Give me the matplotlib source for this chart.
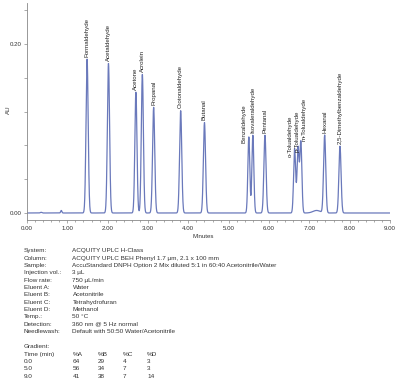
import numpy as np
import matplotlib
matplotlib.use("Agg")
import matplotlib.pyplot as plt
from matplotlib.ticker import MultipleLocator, FuncFormatter

plt.rcParams['font.family'] = ['Liberation Sans', 'DejaVu Sans']

# ---- chromatogram peaks ----
peak_names = ["Formaldehyde", "Acetaldehyde", "Acetone", "Acrolein", "Propanal",
              "Crotonaldehyde", "Butanal", "Benzaldehyde", "Isovaleraldehyde",
              "Pentanal", "o-Tolualdehyde", "p-Tolualdehyde", "m-Tolualdehyde",
              "Hexanal", "2,5-Dimethylbenzaldehyde"]
peak_rt = [1.49, 2.02, 2.70, 2.86, 3.14, 3.81, 4.40, 5.50, 5.60, 5.90,
           6.635, 6.72, 6.79, 7.38, 7.76]
peak_height = [0.182, 0.177, 0.143, 0.164, 0.125, 0.121, 0.107, 0.090, 0.092,
               0.092, 0.076, 0.077, 0.084, 0.092, 0.079]
peak_width = [0.027, 0.027, 0.026, 0.026, 0.027, 0.027, 0.027, 0.024, 0.024,
              0.027, 0.025, 0.025, 0.025, 0.027, 0.027]

# small unlabelled features
minor_rt = [0.35, 0.85, 7.18]
minor_height = [0.0008, 0.003, 0.003]
minor_width = [0.02, 0.015, 0.09]

# ---- method table ----
param_labels = ["System:", "Column:", "Sample:", "Injection vol.:", "Flow rate:",
                "Eluent A:", "Eluent B:", "Eluent C:", "Eluent D:", "Temp.:",
                "Detection:", "Needlewash:"]
param_values = ["ACQUITY UPLC H-Class",
                "ACQUITY UPLC BEH Phenyl 1.7 µm, 2.1 x 100 mm",
                "AccuStandard DNPH Option 2 Mix diluted 5:1 in 60:40 Acetonitrile/Water",
                "3 µL", "750 µL/min", "Water", "Acetonitrile", "Tetrahydrofuran",
                "Methanol", "50 °C", "360 nm @ 5 Hz normal",
                "Default with 50:50 Water/Acetonitrile"]
grad_header = ["Time (min)", "%A", "%B", "%C", "%D"]
grad_time = ["0.0", "5.0", "9.0"]
grad_A = [64, 56, 41]
grad_B = [29, 34, 38]
grad_C = [4, 7, 7]
grad_D = [3, 3, 14]

# label offsets (minutes, AU) for crowded peaks
label_dx = {"Benzaldehyde": -0.12, "Isovaleraldehyde": -0.01, "o-Tolualdehyde": -0.11,
            "p-Tolualdehyde": -0.02, "m-Tolualdehyde": 0.07}
label_dy = {"Benzaldehyde": -0.010, "o-Tolualdehyde": -0.013,
            "p-Tolualdehyde": -0.010, "m-Tolualdehyde": -0.004}

W, H = 400, 383
fig = plt.figure(figsize=(W / 100, H / 100), dpi=100)
x0, x1, ytop, ybot = 27, 390, 3, 220
ax = fig.add_axes([x0 / W, 1 - ybot / H, (x1 - x0) / W, (ybot - ytop) / H])

t = np.linspace(0, 9, 4000)
sig = np.zeros_like(t)
for rt, h, w in zip(peak_rt + minor_rt, peak_height + minor_height, peak_width + minor_width):
    sig += h * np.exp(-0.5 * ((t - rt) / w) ** 2)

line_col = "#6a79bb"
ax.plot(t, sig, color=line_col, lw=0.9)

for name, rt in zip(peak_names, peak_rt):
    i = np.argmin(np.abs(t - rt))
    apex = sig[max(i - 20, 0):i + 20].max()
    ax.text(rt + label_dx.get(name, 0.0), apex + 0.003 + label_dy.get(name, 0.0), name,
            rotation=90, ha='center', va='bottom', fontsize=4.4, color="#222222")

ax.set_xlim(0, 9)
ax.set_ylim(-0.0083, 0.2485)
ax.xaxis.set_major_locator(MultipleLocator(1))
ax.xaxis.set_minor_locator(MultipleLocator(0.2))
ax.xaxis.set_major_formatter(FuncFormatter(lambda v, p: f"{v:.2f}"))
ax.yaxis.set_major_locator(MultipleLocator(0.04))
ax.yaxis.set_major_formatter(FuncFormatter(
    lambda v, p: f"{v:.2f}" if (abs(v) < 1e-9 or abs(v - 0.2) < 1e-9) else ""))
for s in ["top", "right"]:
    ax.spines[s].set_visible(False)
for s in ["left", "bottom"]:
    ax.spines[s].set_color("#888888")
    ax.spines[s].set_linewidth(0.6)
ax.tick_params(axis='both', which='major', length=2.5, width=0.5, color="#888888",
               labelsize=4.4, labelcolor="#333333", pad=1.5)
ax.tick_params(axis='x', which='minor', length=1.2, width=0.5, color="#888888")

fig.text(8 / W, 1 - 110 / H, "AU", fontsize=4.4, color="#333333",
         rotation=90, ha='center', va='center')
fig.text(203 / W, 1 - 237 / H, "Minutes", fontsize=4.4, color="#333333",
         ha='center', va='center')

fs = 4.6
tc = "#333333"
ylab0, step = 250.7, 7.33
for k, (lab, val) in enumerate(zip(param_labels, param_values)):
    yy = 1 - (ylab0 + k * step) / H
    fig.text(24 / W, yy, lab, fontsize=fs, color=tc, va='center', ha='left')
    fig.text(72.5 / W, yy, val, fontsize=fs, color=tc, va='center', ha='left')

gy = 347.0
fig.text(24 / W, 1 - gy / H, "Gradient:", fontsize=fs, color=tc, va='center')
colx = [24, 72.5, 97.5, 122.5, 147]
for cx, hd in zip(colx, grad_header):
    fig.text(cx / W, 1 - (gy + step) / H, hd, fontsize=fs, color=tc, va='center')
for r in range(len(grad_time)):
    yy = 1 - (gy + (r + 2) * step) / H
    vals = [grad_time[r], grad_A[r], grad_B[r], grad_C[r], grad_D[r]]
    for cx, v in zip(colx, vals):
        fig.text(cx / W, yy, str(v), fontsize=fs, color=tc, va='center')

fig.savefig("out.png", dpi=100)
